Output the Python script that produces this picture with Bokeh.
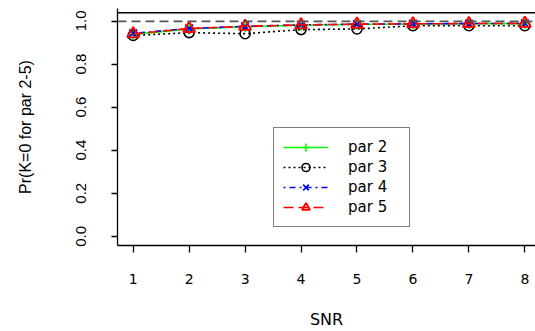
import math
from bokeh.plotting import figure
from bokeh.models import (Range1d, FixedTicker, Span, Legend, LegendItem, LinearAxis,
                          CustomJSTickFormatter)
from bokeh.embed import file_html
from bokeh.resources import INLINE

snr = [1, 2, 3, 4, 5, 6, 7, 8]
par2 = [0.940, 0.965, 0.975, 0.982, 0.987, 0.988, 0.990, 0.990]
par3 = [0.935, 0.948, 0.943, 0.962, 0.965, 0.980, 0.980, 0.980]
par4 = [0.945, 0.967, 0.977, 0.984, 0.987, 0.989, 0.990, 0.991]
par5 = [0.942, 0.967, 0.977, 0.984, 0.987, 0.989, 0.990, 0.991]
x_ticks = [1, 2, 3, 4, 5, 6, 7, 8]
y_ticks = [0.0, 0.2, 0.4, 0.6, 0.8, 1.0]

Y_START, Y_END, BOX_TOP = -0.04, 1.06, 1.04
HEIGHT, TOP, BOTTOM = 331, 8, 85
px_per_unit = (HEIGHT - TOP - BOTTOM) / (Y_END - Y_START)
# rotated tick labels are drawn end-anchored; shift their anchor by half a label length
label_shift = 11 / px_per_unit

p = figure(width=535, height=HEIGHT, output_backend="svg", toolbar_location=None,
           x_range=Range1d(0.72, 8.19), y_range=Range1d(Y_START, Y_END),
           min_border_left=117, min_border_right=0, min_border_top=TOP, min_border_bottom=BOTTOM)
p.grid.visible = False
p.outline_line_color = None
p.background_fill_color = "white"
p.border_fill_color = "white"

# x axis
xa = p.xaxis[0]
xa.ticker = FixedTicker(ticks=x_ticks)
xa.axis_line_color = "black"
xa.axis_line_width = 1.3
xa.major_tick_in = 0
xa.major_tick_out = 7
xa.minor_tick_line_color = None
xa.major_tick_line_color = "black"
xa.major_tick_line_width = 1.3
xa.major_label_text_font = "DejaVu Sans"
xa.major_label_text_font_size = "14px"
xa.major_label_text_color = "black"
xa.major_label_standoff = 21
xa.axis_label = "SNR"
xa.axis_label_text_font = "DejaVu Sans"
xa.axis_label_text_font_size = "16px"
xa.axis_label_text_font_style = "normal"
xa.axis_label_text_color = "black"
xa.axis_label_standoff = 23

# y axis: line + ticks only
ya = p.yaxis[0]
ya.ticker = FixedTicker(ticks=y_ticks)
ya.axis_line_color = "black"
ya.axis_line_width = 1.3
ya.major_tick_in = 0
ya.major_tick_out = 6
ya.minor_tick_line_color = None
ya.major_tick_line_color = "black"
ya.major_tick_line_width = 1.3
ya.major_label_text_color = None
ya.major_label_text_font_size = "1px"
ya.major_label_standoff = 0

# second left axis: rotated tick labels and axis title
yb = LinearAxis(ticker=FixedTicker(ticks=[t + label_shift for t in y_ticks]),
                formatter=CustomJSTickFormatter(code=f"return (tick - {label_shift}).toFixed(1);"))
yb.axis_line_color = None
yb.major_tick_line_color = None
yb.minor_tick_line_color = None
yb.major_tick_in = 0
yb.major_tick_out = 0
yb.major_label_orientation = math.pi / 2
yb.major_label_text_font = "Liberation Sans"
yb.major_label_text_font_size = "15px"
yb.major_label_text_color = "black"
yb.major_label_standoff = 30
yb.axis_label = "Pr(K=0 for par 2-5)"
yb.axis_label_text_font = "Liberation Sans"
yb.axis_label_text_font_size = "16px"
yb.axis_label_text_font_style = "normal"
yb.axis_label_text_color = "black"
yb.axis_label_standoff = 35
p.add_layout(yb, "left")

# top border of box
p.add_layout(Span(location=BOX_TOP, dimension="width", line_color="black", line_width=1.5))
# reference line at 1
p.add_layout(Span(location=1.0, dimension="width", line_color="#555555", line_width=1.8, line_dash="9 5"))

r2l = p.line(snr, par2, line_color="#00FF00", line_width=1.6)
r2s = p.scatter(snr, par2, marker="cross", size=11, line_color="#00FF00", line_width=1.6)
r3l = p.line(snr, par3, line_color="black", line_width=1.6, line_dash="2 3")
r3s = p.scatter(snr, par3, marker="circle", size=10, fill_color=None, line_color="black", line_width=1.6)
r4l = p.line(snr, par4, line_color="#0000FF", line_width=1.6, line_dash="2 4 6 4")
r4s = p.scatter(snr, par4, marker="x", size=11, line_color="#0000FF", line_width=1.6)
r5l = p.line(snr, par5, line_color="#FF0000", line_width=1.6, line_dash="10 5")
r5s = p.scatter(snr, par5, marker="triangle", size=12, fill_color=None, line_color="#FF0000", line_width=1.9)

legend = Legend(items=[
    LegendItem(label="par 2", renderers=[r2l, r2s]),
    LegendItem(label="par 3", renderers=[r3l, r3s]),
    LegendItem(label="par 4", renderers=[r4l, r4s]),
    LegendItem(label="par 5", renderers=[r5l, r5s]),
], location=(156, 18))
legend.border_line_color = "black"
legend.border_line_width = 1.2
legend.background_fill_alpha = 1
legend.background_fill_color = "white"
legend.padding = 9
legend.margin = 0
legend.spacing = 0
legend.glyph_width = 45
legend.glyph_height = 20
legend.label_height = 20
legend.label_width = 52
legend.label_standoff = 20
legend.label_text_font = "DejaVu Sans"
legend.label_text_font_size = "15px"
legend.label_text_color = "black"
p.add_layout(legend, "center")

open("out.html", "w").write(file_html(p, INLINE))
